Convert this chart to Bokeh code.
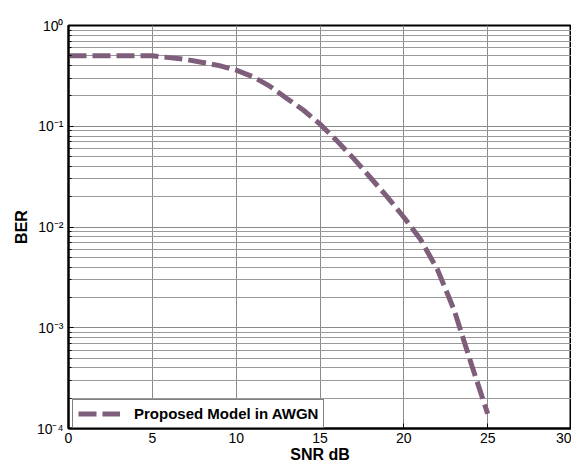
from bokeh.plotting import figure
from bokeh.models import (SingleIntervalTicker, CustomJSTickFormatter, Legend, LegendItem,
                          ColumnDataSource, Range1d)
from bokeh.embed import file_html
from bokeh.resources import INLINE

snr_db = [0, 1, 2, 3, 4, 5, 6, 7, 8, 9, 10, 11, 12, 13, 14, 15, 16, 17, 18, 19, 20, 21, 22, 23, 24, 25]
ber = [0.5, 0.5, 0.5, 0.5, 0.5, 0.5, 0.48, 0.46, 0.43, 0.40, 0.36, 0.31, 0.25, 0.19, 0.145,
       0.105, 0.072, 0.048, 0.031, 0.02, 0.0125, 0.0075, 0.0038, 0.0015, 0.00045, 0.00014]
series_name = "Proposed Model in AWGN"

FONT = "Liberation Sans"
COLOR = "#7e5e7a"

p = figure(width=571, height=465, output_backend="svg", toolbar_location=None,
           y_axis_type="log", x_range=Range1d(0, 30), y_range=Range1d(1e-4, 1),
           min_border_left=68, min_border_right=0, min_border_top=25, min_border_bottom=31)

src = ColumnDataSource(dict(x=snr_db, y=ber))
r = p.line("x", "y", source=src, line_color=COLOR, line_width=5, line_dash="18 6",
           line_cap="butt", line_join="round")

p.outline_line_color = "black"
p.outline_line_width = 2
p.outline_line_alpha = 1

p.xaxis.ticker = SingleIntervalTicker(interval=5, num_minor_ticks=0)
p.xgrid.ticker = p.xaxis.ticker
for ax in (p.xaxis[0], p.yaxis[0]):
    ax.axis_line_color = "black"
    ax.axis_line_width = 2
    ax.major_tick_in = 5
    ax.major_tick_out = 0
    ax.minor_tick_in = 3
    ax.minor_tick_out = 0
    ax.major_label_text_font = FONT
    ax.major_label_text_font_size = "14px"
    ax.major_label_text_color = "black"
    ax.axis_label_text_font = FONT
    ax.axis_label_text_font_size = "16px"
    ax.axis_label_text_font_style = "bold"
    ax.axis_label_text_color = "black"

p.xaxis.axis_label = "SNR dB"
p.yaxis.axis_label = "BER"
p.xaxis.major_label_standoff = 4
p.xaxis.axis_label_standoff = 0
p.yaxis.major_label_standoff = 5
p.yaxis.axis_label_standoff = 4

p.yaxis.formatter = CustomJSTickFormatter(code="""
const e = Math.round(Math.log10(tick));
const sup = {'-':'\u207b','0':'\u2070','1':'\u00b9','2':'\u00b2','3':'\u00b3','4':'\u2074'};
return '10' + String(e).split('').map(c => sup[c]).join('');
""")

p.xgrid.grid_line_color = "#8a8a8a"
p.xgrid.grid_line_width = 1
p.ygrid.grid_line_color = "#8a8a8a"
p.ygrid.grid_line_width = 1
p.ygrid.minor_grid_line_color = "#9a9a9a"
p.ygrid.minor_grid_line_width = 1

legend = Legend(items=[LegendItem(label=series_name, renderers=[r])], location=(4, 0),
                margin=0, padding=5, spacing=0, glyph_width=42, glyph_height=15,
                label_height=15, label_standoff=14, label_text_font=FONT,
                label_text_font_size="15px", label_text_font_style="bold",
                label_text_color="black", label_text_baseline="middle",
                border_line_color="black", border_line_width=1.5, background_fill_alpha=1)
p.add_layout(legend)

open("out.html", "w").write(file_html(p, INLINE))
